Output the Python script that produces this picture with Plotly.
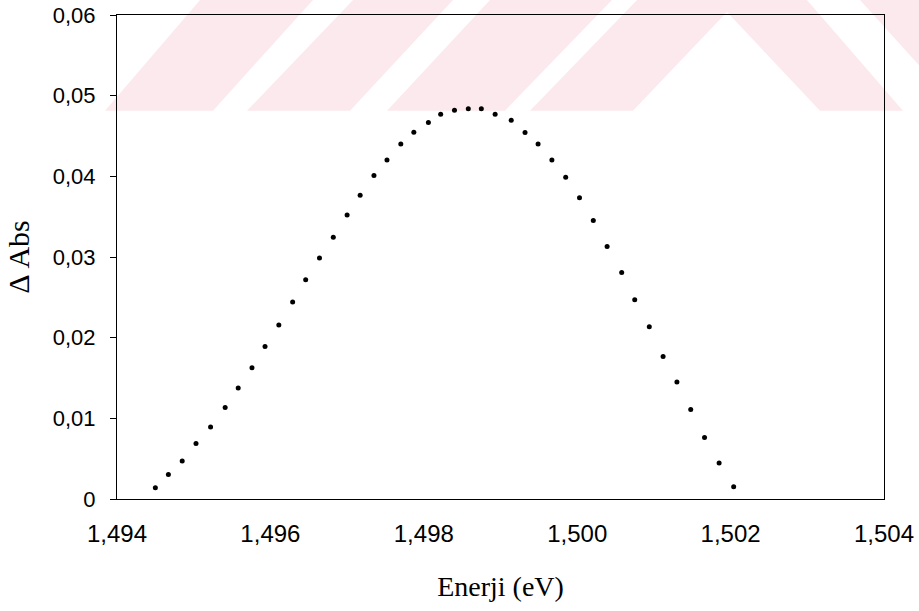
import plotly.graph_objects as go

# ---- data ----
energy_ev = [
    1.49450, 1.49467, 1.49485, 1.49503, 1.49522, 1.49541, 1.49558, 1.49576,
    1.49593, 1.49611, 1.49629, 1.49646, 1.49664, 1.49682, 1.49700, 1.49717,
    1.49735, 1.49752, 1.49770, 1.49787, 1.49806, 1.49822, 1.49840, 1.49858,
    1.49875, 1.49893, 1.49914, 1.49932, 1.49949, 1.49967, 1.49985, 1.50003,
    1.50021, 1.50039, 1.50058, 1.50075, 1.50094, 1.50112, 1.50130, 1.50148,
    1.50166, 1.50185, 1.50204,
]
delta_abs = [
    0.00140, 0.00305, 0.00471, 0.00689, 0.00892, 0.01135, 0.01375, 0.01627,
    0.01890, 0.02156, 0.02441, 0.02717, 0.02989, 0.03246, 0.03522, 0.03766,
    0.04009, 0.04203, 0.04402, 0.04547, 0.04666, 0.04770, 0.04819, 0.04839,
    0.04839, 0.04770, 0.04695, 0.04542, 0.04402, 0.04203, 0.03989, 0.03736,
    0.03451, 0.03129, 0.02807, 0.02469, 0.02135, 0.01767, 0.01449, 0.01110,
    0.00763, 0.00446, 0.00152,
]
x_tick_vals = [1.494, 1.496, 1.498, 1.500, 1.502, 1.504]
x_tick_text = ["1,494", "1,496", "1,498", "1,500", "1,502", "1,504"]
y_tick_vals = [0, 0.01, 0.02, 0.03, 0.04, 0.05, 0.06]
y_tick_text = ["0", "0,01", "0,02", "0,03", "0,04", "0,05", "0,06"]
x_title = "Enerji (eV)"
y_title = "Δ Abs"

# ---- layout geometry ----
W, H = 919, 611
L, R, T, B = 117, 35, 15, 112
PW, PH = W - L - R, H - T - B


def px(x, y):
    """pixel -> paper coordinates (for decorative watermark only)"""
    return (x - L) / PW, (H - B - y) / PH


def poly(points):
    parts = []
    for i, (x, y) in enumerate(points):
        xp, yp = px(x, y)
        parts.append(("M" if i == 0 else "L") + f"{xp:.5f},{yp:.5f}")
    return " ".join(parts) + " Z"


wm_bottom = 110.7
pink = "rgb(252,233,237)"
watermark = [
    [(105, wm_bottom), (213, wm_bottom), (313, 0), (200, 0)],
    [(247, wm_bottom), (350, wm_bottom), (453, 0), (353, 0)],
    [(387, wm_bottom), (505, wm_bottom), (612, 0), (490, 0)],
    [(530, wm_bottom), (637, 0), (807, 0), (903, wm_bottom), (820, wm_bottom),
     (727, 12), (633, wm_bottom)],
    [(860, 0), (1000, 0), (1000, wm_bottom), (960, wm_bottom)],
]
shapes = [
    dict(type="path", xref="paper", yref="paper", path=poly(p),
         fillcolor=pink, line=dict(width=0), layer="below")
    for p in watermark
]

fig = go.Figure()
fig.add_trace(go.Scatter(
    x=energy_ev, y=delta_abs, mode="markers",
    marker=dict(color="black", size=5, line=dict(width=0)),
    showlegend=False, hoverinfo="x+y",
))

xtick_font = dict(family="Liberation Sans, Arial, sans-serif", size=24, color="black")
ytick_font = dict(family="Liberation Sans, Arial, sans-serif", size=22, color="black")
xtitle_font = dict(family="Liberation Serif, Times New Roman, serif", size=28, color="black")
ytitle_font = dict(family="Liberation Serif, Times New Roman, serif", size=30, color="black")

fig.update_layout(
    width=W, height=H,
    margin=dict(l=L, r=R, t=T, b=B, pad=0),
    paper_bgcolor="rgba(0,0,0,0)",
    plot_bgcolor="rgba(0,0,0,0)",
    shapes=shapes,
    showlegend=False,
)
fig.update_xaxes(
    range=[1.494, 1.504], tickvals=x_tick_vals, ticktext=x_tick_text,
    showgrid=False, zeroline=False, showline=True, linecolor="black",
    linewidth=1, mirror=True, ticks="", tickfont=xtick_font,
    ticklabelstandoff=13,
    title=dict(text=x_title, font=xtitle_font, standoff=30),
    automargin=False,
)
fig.update_yaxes(
    range=[0, 0.06], tickvals=y_tick_vals, ticktext=y_tick_text,
    showgrid=False, zeroline=False, showline=True, linecolor="black",
    linewidth=1, mirror=True, ticks="outside", ticklen=6, tickcolor="black",
    tickfont=ytick_font, ticklabelstandoff=10,
    title=dict(text=y_title, font=ytitle_font, standoff=14),
    automargin=False,
)

fig.write_html(
    "out.html",
    config={"displayModeBar": False},
    post_script="document.body.style.margin='0px';document.body.style.overflow='hidden';",
)
